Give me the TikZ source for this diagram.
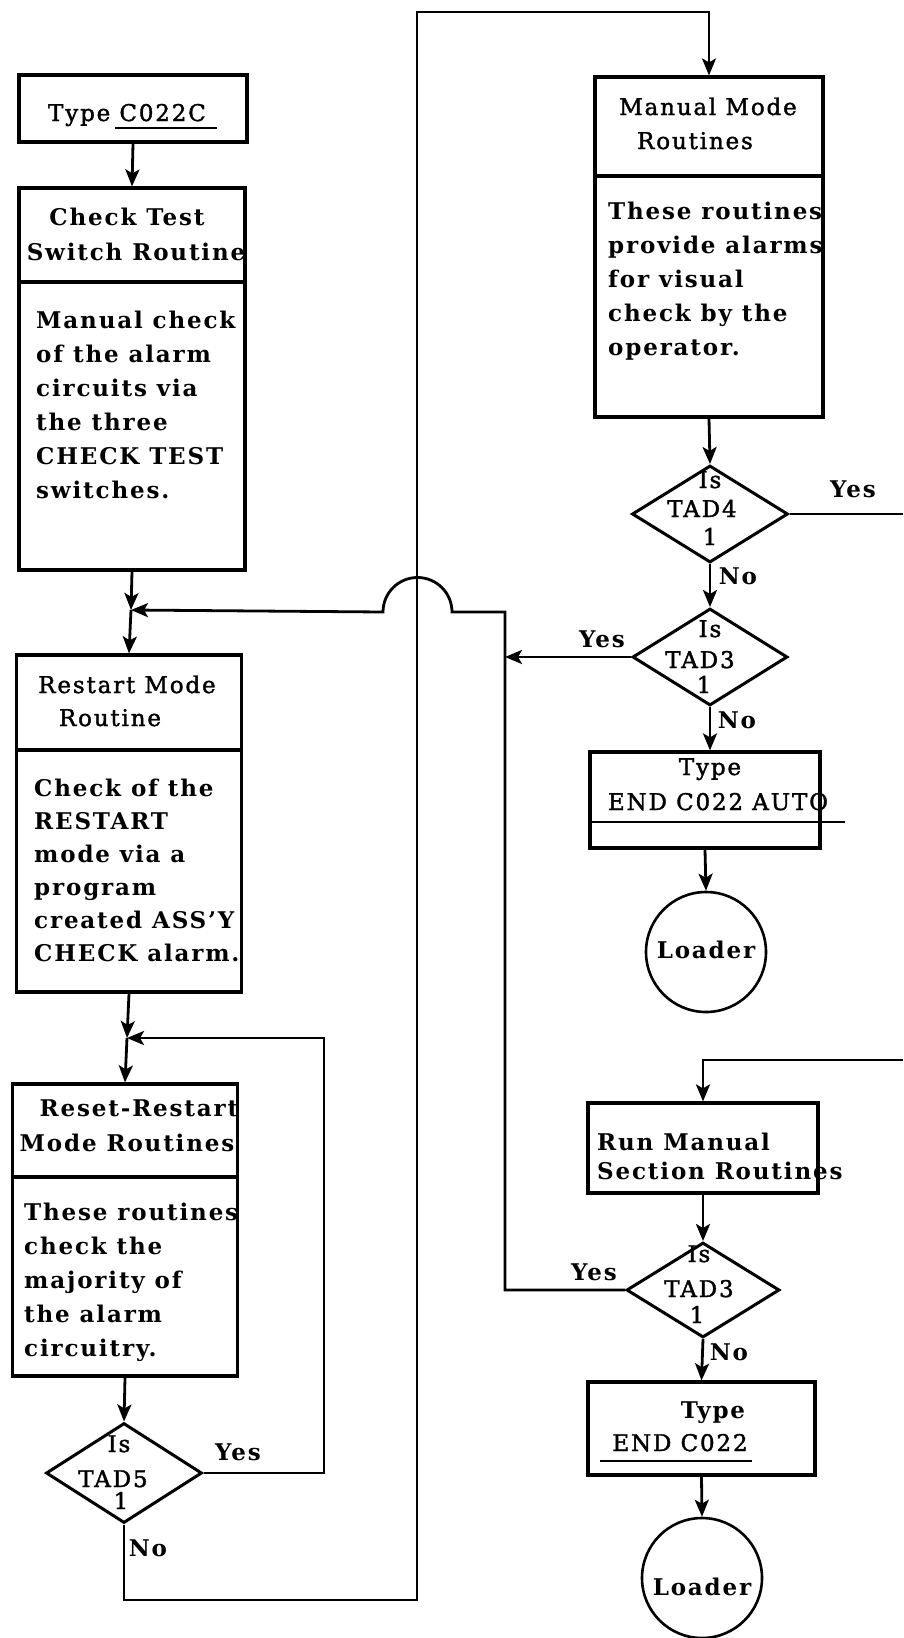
\documentclass[tikz,border=0pt]{standalone}
\usepackage{fontspec}
\setmainfont{DejaVu Serif}[LetterSpace=8]
\newfontfamily\medfont{DejaVu Serif}[LetterSpace=8,FakeBold=1.6]
\usetikzlibrary{arrows.meta,shapes.geometric}
\begin{document}
\begin{tikzpicture}[x=1pt,y=-1pt,
  procbox/.style={draw,line width=3.2pt,inner sep=0pt,rectangle},
  cond/.style={draw,diamond,line width=3pt,inner sep=0pt},
  termnode/.style={draw,circle,line width=2.6pt,inner sep=0pt,minimum size=120pt},
  wire/.style={line width=2.8pt},
  flow/.style={wire,-{Stealth[length=17pt,width=14pt,inset=4pt]}},
  hairwire/.style={line width=2.2pt},
  tx/.style={inner sep=0pt,anchor=base,font=\fontsize{23}{34}\medfont},
  bx/.style={inner sep=0pt,anchor=base,font=\fontsize{23}{34}\selectfont\bfseries},
  dtx/.style={inner sep=0pt,anchor=base,font=\fontsize{23}{30}\medfont},
  lab/.style={inner sep=0pt,font=\fontsize{23}{34}\selectfont\bfseries},
]
\useasboundingbox (0,0) rectangle (903,1638);
\fill[white] (0,0) rectangle (903,1638);

% ---------- left column ----------
\node[procbox,minimum width=228pt,minimum height=67pt] (typec) at (133,108.5) {};
\node[tx] (typectx) at (127,121) {Type C022C};
\draw[hairwire] (115,128) -- (217,128);

\node[procbox,minimum width=226pt,minimum height=94pt] (checkH) at (132,235) {};
\node[procbox,minimum width=226pt,minimum height=288pt] (checkB) at (132,426) {};
\node[bx] (checkh1) at (127,225) {Check Test};
\node[bx] (checkh2) at (136,260) {Switch Routine};
\node[inner sep=0pt,anchor=north west,align=left,font=\fontsize{23}{34}\selectfont\bfseries] (checkbt) at (36,308)
  {\rule{0pt}{20pt}Manual check\\of the alarm\\circuits via\\the three\\CHECK TEST\\switches.};

\node[procbox,minimum width=225pt,minimum height=95pt] (restH) at (129,702.5) {};
\node[procbox,minimum width=225pt,minimum height=242pt] (restB) at (129,871) {};
\node[tx] (resth1) at (127,693) {Restart Mode};
\node[tx] (resth2) at (110,726) {Routine};
\node[inner sep=0pt,anchor=north west,align=left,font=\fontsize{23}{33}\selectfont\bfseries] (restbt) at (34,776)
  {\rule{0pt}{20pt}Check of the\\RESTART\\mode via a\\program\\created ASS'Y\\CHECK alarm.};

\node[procbox,minimum width=225pt,minimum height=93pt] (resetH) at (125,1130.5) {};
\node[procbox,minimum width=225pt,minimum height=199pt] (resetB) at (125,1276.5) {};
\node[bx] (reseth1) at (139,1116) {Reset-Restart};
\node[bx] (reseth2) at (127,1151) {Mode Routines};
\node[inner sep=0pt,anchor=north west,align=left,font=\fontsize{23}{34}\selectfont\bfseries] (resetbt) at (24,1200)
  {\rule{0pt}{20pt}These routines\\check the\\majority of\\the alarm\\circuitry.};

\node[cond,minimum width=156pt,minimum height=100pt] (tad5) at (124,1473) {};
\node[dtx] (tad5a) at (119,1452) {Is};
\node[dtx] (tad5b) at (113,1487) {TAD5};
\node[dtx] (tad5c) at (121,1509) {1};

% ---------- right column ----------
\node[procbox,minimum width=228pt,minimum height=99pt] (manH) at (709,126.5) {};
\node[procbox,minimum width=228pt,minimum height=241pt] (manB) at (709,296.5) {};
\node[tx] (manh1) at (708,115) {Manual Mode};
\node[tx] (manh2) at (695,149) {Routines};
\node[inner sep=0pt,anchor=north west,align=left,font=\fontsize{23}{34}\selectfont\bfseries] (manbt) at (608,199)
  {\rule{0pt}{20pt}These routines\\provide alarms\\for visual\\check by the\\operator.};

\node[cond,minimum width=156pt,minimum height=97pt] (tad4) at (710,514) {};
\node[dtx] (tad4a) at (710,488) {Is};
\node[dtx] (tad4b) at (702,517) {TAD4};
\node[dtx] (tad4c) at (710,545) {1};

\node[cond,minimum width=155pt,minimum height=97pt] (tad3a) at (710,657) {};
\node[dtx] (tad3aa) at (710,637) {Is};
\node[dtx] (tad3ab) at (700,668) {TAD3};
\node[dtx] (tad3ac) at (704,693) {1};

\node[procbox,minimum width=230pt,minimum height=96pt] (endauto) at (705,800) {};
\node[tx] (endauto1) at (710,775) {Type};
\node[tx] (endauto2) at (718,810) {END C022 AUTO};
\draw[wire] (endauto.west |- 0,822) -- (845,822);

\node[termnode] (loader1) at (706,952) {};
\node[lab] (loader1t) at (706,950) {Loader};

\node[procbox,minimum width=230pt,minimum height=90pt] (runman) at (703,1148) {};
\node[inner sep=0pt,anchor=north west,align=left,font=\fontsize{23}{29}\selectfont\bfseries] (runmant) at (597,1130)
  {\rule{0pt}{20pt}Run Manual\\Section Routines};

\node[cond,minimum width=153pt,minimum height=95pt] (tad3b) at (703,1290) {};
\node[dtx] (tad3ba) at (699,1262) {Is};
\node[dtx] (tad3bb) at (699,1297) {TAD3};
\node[dtx] (tad3bc) at (697,1323) {1};

\node[procbox,minimum width=227pt,minimum height=93pt] (endc) at (701.5,1428.5) {};
\node[bx] (endc1) at (713,1418) {Type};
\node[tx] (endc2) at (680,1451) {END C022};
\draw[hairwire] (600,1461) -- (752,1461);

\node[termnode] (loader2) at (702,1578) {};
\node[lab] (loader2t) at (702,1587) {Loader};

% ---------- labels ----------
\node[lab] (y5) at (238,1452) {Yes};
\node[lab] (n5) at (148,1548) {No};
\node[lab] (y4) at (853,489) {Yes};
\node[lab] (n4) at (738,576) {No};
\node[lab] (y3a) at (602,639) {Yes};
\node[lab] (n3a) at (737,720) {No};
\node[lab] (y3b) at (594,1272) {Yes};
\node[lab] (n3b) at (729,1352) {No};

% ---------- coordinates ----------
\coordinate (m1) at (131,610);
\coordinate (m2) at (127,1038);
\coordinate (rv) at (505,612);
\coordinate (c5) at (324,1038);
\coordinate (nb) at (417,1600);
\coordinate (ntop) at (417,12);
\coordinate (offA) at (903,514);
\coordinate (offB) at (903,1060);

% ---------- connectors ----------
\draw[flow] (typec.south) -- (checkH.north);
\draw[flow] (checkB.south) -- (m1);
\draw[flow] (m1) -- (restH.north);
\draw[flow] (restB.south) -- (m2);
\draw[flow] (m2) -- (resetH.north);
\draw[flow] (resetB.south) -- (tad5.north);
\draw[flow] (tad5.east) -| (c5) -- (m2);
\draw[flow,line width=2.4pt] (tad5.south) |- (nb) -- (ntop) -| (manH.north);

\draw[flow] (manB.south) -- (tad4.north);
\draw[wire] (tad4.east) -- (offA);
\draw[flow] (tad4.south) -- (tad3a.north);
\draw[flow] (tad3a.west) -- (tad3a.west -| rv);
\draw[flow] (tad3a.south) -- (tad3a.south |- endauto.north);
\draw[flow] (endauto.south) -- (loader1.north);

\draw[flow] (offB) -| (runman.north);
\draw[flow] (runman.south) -- (tad3b.north);
\draw[flow] (tad3b.south) -- (endc.north);
\draw[flow] (endc.south) -- (loader2.north);
\draw[flow] (tad3b.west) -- (tad3b.west -| rv) -- (rv) -- (452,612)
  arc[start angle=0,end angle=-180,radius=34.5] -- (m1);
\end{tikzpicture}
\end{document}
